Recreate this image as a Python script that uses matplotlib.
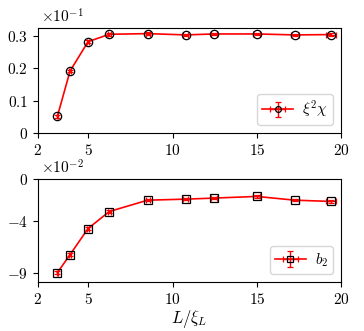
import numpy as np
import matplotlib
matplotlib.use("Agg")
import matplotlib.pyplot as plt

plt.rcParams['mathtext.fontset'] = 'cm'
plt.rcParams['font.family'] = 'serif'
plt.rcParams['font.serif'] = ['cmr10', 'DejaVu Serif']
plt.rcParams['axes.formatter.use_mathtext'] = True

# data
L_xi = [3.16, 3.91, 4.98, 6.24, 8.52, 10.79, 12.44, 14.99, 17.25, 19.38]
L_err = [0.05, 0.06, 0.08, 0.1, 0.12, 0.15, 0.17, 0.2, 0.25, 0.3]
chi = [0.052, 0.192, 0.283, 0.306, 0.308, 0.304, 0.307, 0.307, 0.304, 0.305]   # x 10^-1
chi_err = [0.004, 0.004, 0.004, 0.004, 0.004, 0.004, 0.004, 0.004, 0.004, 0.004]
b2 = [-9.0, -7.27, -4.76, -3.12, -2.03, -1.93, -1.83, -1.67, -2.03, -2.15]     # x 10^-2
b2_err = [0.15, 0.15, 0.15, 0.12, 0.12, 0.12, 0.12, 0.12, 0.12, 0.12]

xticks = [2, 5, 10, 15, 20]
top_yticks = [0, 0.1, 0.2, 0.3]
bot_yticks = [0, -4, -9]

fig = plt.figure(figsize=(3.64, 3.31), dpi=100)
ax1 = fig.add_axes([0.104, 0.598, 0.833, 0.317])
ax2 = fig.add_axes([0.104, 0.148, 0.833, 0.311])

style = dict(color='red', ecolor='red', lw=1.2, elinewidth=1.0, capsize=2,
             mec='black', mfc='none', ms=6, mew=0.9)
leg = dict(loc='lower right', fontsize=11, handlelength=2.0, borderpad=0.35,
           markerscale=0.7, handletextpad=0.6)

ax1.errorbar(L_xi, chi, xerr=L_err, yerr=chi_err, marker='o',
             label=r'$\xi^2\chi$', **style)
ax2.errorbar(L_xi, b2, xerr=L_err, yerr=b2_err, marker='s',
             label=r'$b_2$', **style)

for ax in (ax1, ax2):
    ax.set_xlim(2, 20)
    ax.set_xticks(xticks)
    ax.set_xticklabels([r'$%d$' % v for v in xticks])
    ax.tick_params(labelsize=11, length=3.5, width=0.8)
    for s in ax.spines.values():
        s.set_linewidth(0.8)

ax1.set_ylim(0, 0.325)
ax1.set_yticks(top_yticks)
ax1.set_yticklabels([r'$0$', r'$0.1$', r'$0.2$', r'$0.3$'])
ax1.text(0.01, 1.02, r'$\times10^{-1}$', transform=ax1.transAxes, fontsize=11,
         ha='left', va='bottom')
ax1.legend(**leg)

ax2.set_ylim(-9.9, 0)
ax2.set_yticks(bot_yticks)
ax2.set_yticklabels([r'$0$', r'$-4$', r'$-9$'])
ax2.text(0.01, 1.02, r'$\times10^{-2}$', transform=ax2.transAxes, fontsize=11,
         ha='left', va='bottom')
ax2.legend(**leg)
ax2.set_xlabel(r'$L/\xi_L$', fontsize=12, labelpad=1)

fig.savefig('out.png', dpi=100)
